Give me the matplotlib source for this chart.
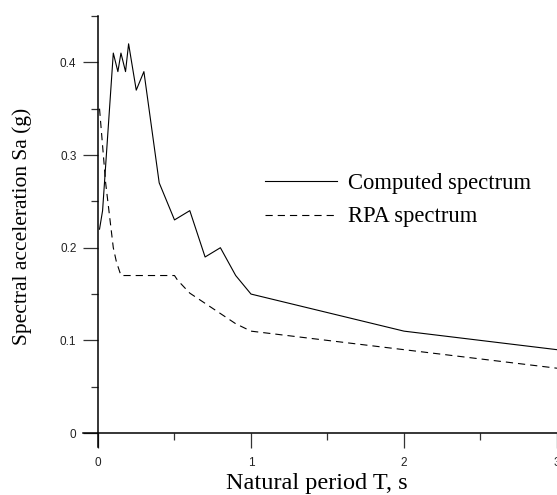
import numpy as np
import matplotlib.pyplot as plt
from matplotlib.ticker import MultipleLocator

# natural period T (s) and spectral acceleration Sa (g)
computed_T = [0.01, 0.03, 0.10, 0.13, 0.15, 0.18, 0.20, 0.25, 0.30, 0.40,
              0.50, 0.60, 0.70, 0.80, 0.90, 1.00, 2.00, 3.00]
computed_Sa = [0.22, 0.24, 0.41, 0.39, 0.41, 0.39, 0.42, 0.37, 0.39, 0.27,
               0.23, 0.24, 0.19, 0.20, 0.17, 0.15, 0.11, 0.09]

rpa_T = [0.01, 0.05, 0.10, 0.12, 0.15, 0.50, 0.52, 0.60, 0.70, 0.80,
         0.90, 1.00, 1.20, 1.50, 2.00, 2.50, 3.00]
rpa_Sa = [0.35, 0.27, 0.20, 0.185, 0.17, 0.17, 0.165, 0.151, 0.140, 0.129,
          0.118, 0.110, 0.106, 0.100, 0.090, 0.080, 0.070]

serif = ['Liberation Serif', 'DejaVu Serif']
sans = ['Liberation Sans', 'DejaVu Sans']

W, H = 557, 495
fig = plt.figure(figsize=(W/100, H/100), dpi=100)
ax = fig.add_axes([83/W, 48/H, (W-83)/W, (447-16)/H])

ax.plot(computed_T, computed_Sa, color='black', lw=0.8, label='Computed spectrum')
ax.plot(rpa_T, rpa_Sa, color='black', lw=0.8, dashes=(6.5, 4.5), label='RPA spectrum')

ax.set_xlim(-0.098, 3.0)
ax.set_ylim(-0.015, 0.45)

for s in ['top', 'right']:
    ax.spines[s].set_visible(False)
ax.spines['left'].set_position(('data', 0))
ax.spines['bottom'].set_position(('data', 0))
for s in ['left', 'bottom']:
    ax.spines[s].set_linewidth(1.1)
ax.spines['left'].set_bounds(-0.015, 0.45)
ax.spines['bottom'].set_bounds(-0.098, 3.0)

ax.xaxis.set_minor_locator(MultipleLocator(0.5))
ax.yaxis.set_minor_locator(MultipleLocator(0.05))
ax.set_xticks([0, 1, 2, 3])
ax.set_xticklabels(['0', '1', '2', '3'])
ax.set_yticks([0, 0.1, 0.2, 0.3, 0.4])
ax.set_yticklabels(['0', '0.1', '0.2', '0.3', '0.4'])

ax.tick_params(which='major', direction='out', length=10.5, width=0.9,
               color='#333333', labelsize=8.5, labelcolor='#222222')
ax.tick_params(which='minor', direction='out', length=5, width=0.9, color='#333333')
ax.tick_params(axis='x', which='major', pad=7)
ax.tick_params(axis='y', which='major', pad=5)
for lab in ax.get_xticklabels() + ax.get_yticklabels():
    lab.set_family(sans)

fig.text(22/W, 1 - 226/H, 'Spectral acceleration Sa (g)', rotation=90,
         ha='center', va='center', fontsize=15.5, family=serif)
fig.text(317/W, 1 - 483/H, 'Natural period T, s', ha='center', va='center',
         fontsize=17.5, family=serif)

ax.legend(loc='upper left', bbox_to_anchor=(265/W, 1 - 173/H),
          bbox_transform=fig.transFigure, frameon=False,
          prop={'family': serif, 'size': 16.3}, handlelength=3.2,
          handletextpad=0.45, labelspacing=0.55, borderpad=0, borderaxespad=0)

fig.savefig('out.png', dpi=100)
